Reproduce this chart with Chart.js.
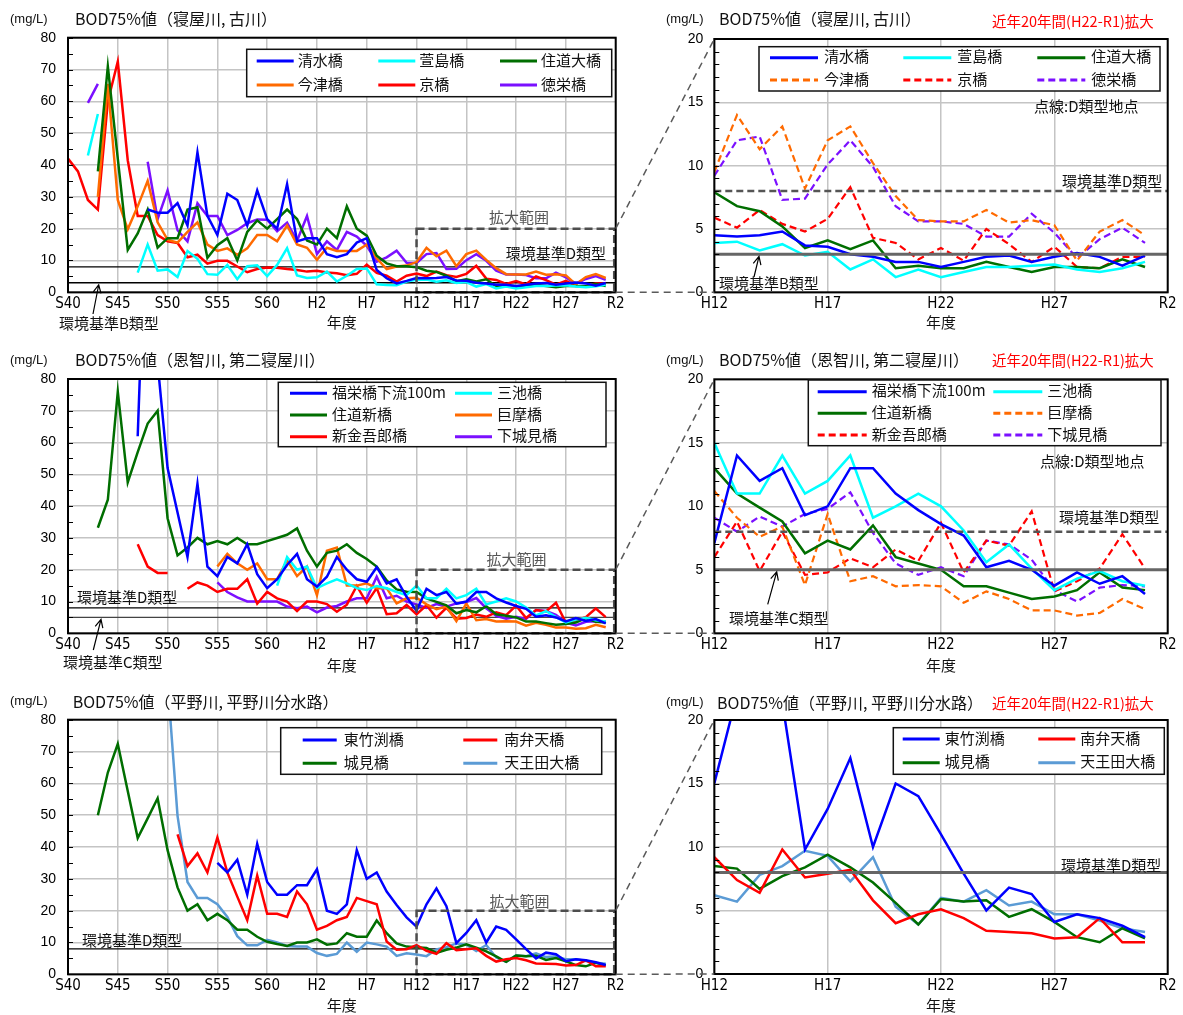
<!DOCTYPE html>
<html lang="ja">
<head>
<meta charset="utf-8">
<title>BOD75%値の経年変化</title>
<script src="https://cdn.jsdelivr.net/npm/chart.js@4.4.1/dist/chart.umd.min.js"></script>
<style>
  html, body { margin: 0; padding: 0; background: #fff; }
  #page { position: relative; width: 1183px; height: 1015px; overflow: hidden; background: #fff; }
  #page canvas { position: absolute; }
</style>
</head>
<body>
<div id="page"></div>
<script>
// ---- 年度 (fiscal year) axis -------------------------------------------
const firstYear = 1965;          // S40
const zoomFromYear = 2000;       // H12
const lastTickYear = 2020;       // R2

const longTickYears  = [1965, 1970, 1975, 1980, 1985, 1990, 1995, 2000, 2005, 2010, 2015, 2020];
const longTickLabels = ['S40', 'S45', 'S50', 'S55', 'S60', 'H2', 'H7', 'H12', 'H17', 'H22', 'H27', 'R2'];
const zoomTickYears  = [2000, 2005, 2010, 2015, 2020];
const zoomTickLabels = ['H12', 'H17', 'H22', 'H27', 'R2'];

// ---- BOD75%値 (mg/L), one value per fiscal year 1965 (S40) .. 2019 (R1) --
// 寝屋川・古川
const shimizuBashi = [
  null, null, null, null, null, null, null, null, 26, 25,
  25, 28, 21, 44, 24, 18, 31, 29, 21, 32,
  23, 20, 34, 16, 17, 17, 12, 11, 12, 15.6,
  17, 7, 4.4, 2.8, 3.6, 4.5, 4.4, 4.5, 4.8, 3.7,
  3.6, 3.0, 2.8, 2.4, 2.4, 2.0, 2.4, 2.8, 2.9, 2.4,
  2.8, 3.1, 2.8, 2.1, 2.9];
const kayashimaBashi = [
  null, null, 43, 56, null, null, null, 6.2, 15, 6.8,
  7.2, 4.8, 13, 10.5, 5.7, 5.5, 8.6, 4.1, 8.2, 8.5,
  5.1, 8.6, 13.9, 5.3, 4.5, 4.7, 6.5, 3.4, 5.2, 7.3,
  7.5, 2.5, 2.3, 2.2, 3.4, 3.9, 4.0, 3.3, 3.8, 2.9,
  3.2, 1.8, 2.6, 1.2, 1.8, 1.2, 1.6, 2.0, 2.0, 2.1,
  2.2, 1.8, 1.6, 1.9, 2.4];
const suidoOhashi = [
  null, null, null, 38, 71, 42, 13.3, 18.5, 26, 14,
  17, 17, 26, 26.7, 10.8, 14.8, 17, 10, 19, 22.6,
  20, 23, 26, 23, 16.3, 15, 20, 17, 27, 20,
  17.8, 11.5, 9.1, 8.2, 8.2, 7.9, 6.8, 6.4, 5.2, 3.5,
  4.1, 3.4, 4.1, 1.9, 2.1, 1.9, 1.9, 2.4, 2.0, 1.6,
  2.0, 2.0, 1.9, 2.6, 2.0];
const imazuBashi = [
  null, null, null, 30, 65.5, 29, 19.8, 27, 35, 22,
  16.5, 15.6, 19, 22, 15, 13, 13.8, 11.8, 13.8, 18,
  18, 16, 21, 15, 14, 10.2, 14, 13, 13, 13,
  15, 10.7, 7.3, 8.1, 8.4, 9.5, 14.0, 11.3, 13.1, 8.2,
  12.0, 13.1, 10.2, 7.6, 5.7, 5.6, 5.6, 6.5, 5.5, 5.7,
  5.3, 2.5, 4.8, 5.7, 4.5];
const kyoBashi = [
  42, 38, 29, 26, 60, 72.5, 41.5, 24, 24, 18,
  16, 15.5, 11, 11.8, 9, 9.9, 9.9, 8.1, 6.3, 7.3,
  7.8, 7.7, 7.3, 7, 6.5, 6.8, 6.2, 6, 5.4, 5.8,
  8.7, 6.1, 5.2, 3.4, 5.2, 5.9, 5.1, 6.5, 5.4, 4.8,
  5.8, 8.3, 4.3, 3.9, 2.6, 3.5, 2.5, 5.0, 3.8, 2.4,
  3.6, 2.0, 1.9, 2.8, 2.8];
const tokueiBashi = [
  null, null, 59.5, 65.5, null, null, null, null, 41, 23,
  32, 19.5, 16, 28, 24, 24, 18, 19.6, 21.7, 22.9,
  22.8, 19.2, 21.9, 16.2, 24, 12, 16, 13.3, 19, 17.5,
  14.6, 9.6, 11, 13.1, 9.3, 9.2, 12.0, 12.3, 7.3, 7.4,
  10.1, 12.0, 9.9, 6.8, 5.6, 5.6, 5.4, 4.4, 4.4, 6.2,
  4.7, 2.7, 4.2, 5.1, 3.9];

// 恩智川・第二寝屋川
const fukueiBashiKaryu = [
  null, null, null, null, null, null, null, 62, 150, 85,
  52, 38, 24, 47, 21, 18, 24, 22, 28, 18.6,
  14.2, 17, 21.5, 25, 17, 14.7, 17.8, 24, 20, 17,
  16.2, 20.8, 15.7, 17, 11.5, 7.1, 14.0, 12.0, 13.0, 9.3,
  10.0, 13.0, 13.0, 11.0, 9.7, 8.6, 7.7, 5.2, 5.7, 5.0,
  3.75, 4.8, 3.9, 4.5, 3.1];
const miikeBashi = [
  null, null, null, null, null, null, null, null, null, null,
  null, null, null, null, null, null, null, null, null, null,
  null, 15, 24, 20, 21, 14.2, 15.7, 17, 15.7, 14.2,
  13.6, 14.9, 14.2, 13, 12, 15, 11, 11, 14, 11,
  12, 14, 9.1, 10, 11, 10, 8.1, 5.6, 7.0, 5.1,
  3.4, 4.3, 4.9, 4.1, 3.75];
const suidoShinbashi = [
  null, null, null, 33.2, 42, 76, 47.5, 57, 66, 70,
  36.2, 24.5, 27, 30, 28, 29, 28, 30, 28, 28,
  29, 30, 31, 33, 26, 21, 25.3, 26, 28, 25.3,
  23.4, 21, 16.6, 13.8, 13.1, 13, 11, 9.9, 8.8, 6.3,
  7.3, 6.6, 8.5, 6.0, 5.5, 5.0, 3.7, 3.7, 3.2, 2.7,
  2.9, 3.4, 4.8, 3.6, 3.4];
const koseBashi = [
  null, null, null, null, null, null, null, null, null, null,
  null, null, null, null, null, 21, 25, 22, 20, 22,
  17, 17, 23, 18, 21, 12, 26, 27, 15, 15,
  15.7, 14.2, 14.2, 9.4, 11, 11.2, 9.1, 7.6, 8.4, 3.8,
  9.4, 4.1, 4.5, 3.7, 3.8, 3.7, 2.4, 3.3, 2.7, 1.8,
  1.8, 1.4, 1.6, 2.7, 1.9];
const shinkingoroBashi = [
  null, null, null, null, null, null, null, 28, 21, 19,
  19, null, 14, 16, 15, 13, 14, 14, 17, 9.3,
  13, 11, 10, 7, 10, 10, 9.2, 6.8, 9, 14.9,
  9.6, 14.2, 6, 6.3, 8.9, 6.0, 8.8, 4.9, 8.0, 4.6,
  4.8, 5.9, 5.2, 6.6, 5.7, 8.7, 4.8, 7.3, 6.9, 9.6,
  3.3, 4.1, 5.1, 7.8, 5.1];
const shimoShiromiBashi = [
  null, null, null, null, null, null, null, null, null, null,
  null, null, null, null, null, 16, 13, 11.3, 10, 10,
  10, 10, 8.4, 7.9, 8.4, 6.6, 8.1, 8.6, 10, 11,
  11, 17.8, 11, 11.8, 10, 9.1, 8.0, 9.2, 8.4, 9.4,
  9.8, 11.1, 7.9, 5.5, 4.6, 5.2, 4.5, 7.3, 7.0, 5.8,
  3.4, 2.5, 3.6, 3.8, 3.7];

// 平野川・平野川分水路
const higashiTakebuchiBashi = [
  null, null, null, null, null, null, null, null, null, null,
  null, null, null, null, null, 35, 32, 36, 25, 41,
  29, 25, 25, 28, 28, 33, 20, 19, 22, 39,
  30, 32, 26, 21.8, 17.9, 15, 22, 27, 21.4, 9.8,
  13, 17, 10, 15, 14, 11, 7.9, 5.0, 6.8, 6.3,
  4.1, 4.7, 4.4, 3.8, 2.9];
const minamiBentenBashi = [
  null, null, null, null, null, null, null, null, null, null,
  null, 44, 34, 38, 32, 43, 32, 24.4, 17, 31,
  19, 19, 18, 26, 22, 14, 15.2, 17, 18, 24,
  23, 22, 10.3, 7.7, 7.9, 9.2, 7.4, 6.4, 9.8, 7.6,
  7.9, 8.2, 5.8, 4.0, 4.7, 5.1, 4.4, 3.4, 3.3, 3.2,
  2.8, 2.9, 4.4, 2.5, 2.5];
const shiromiBashi = [
  null, null, null, 50, 63.4, 72.4, 57.6, 42.8, 49, 55.3,
  39, 27.3, 20, 22, 17, 19, 17, 14, 14, 11.8,
  10.2, 9.5, 8.9, 10, 10, 11, 9.3, 9.7, 12.9, 11.8,
  11.8, 16.9, 12.9, 9.7, 8.7, 8.5, 8.3, 6.7, 7.7, 8.4,
  9.4, 8.4, 7.2, 5.6, 3.9, 5.9, 5.7, 5.8, 4.5, 5.1,
  4.1, 2.9, 2.5, 3.6, 2.8];
const tennodenOhashi = [
  null, null, null, null, null, null, null, null, null, null,
  92, 49.8, 29, 24, 24, 22, 18, 12, 9.1, 9.1,
  10.8, 10, 8.9, 8.7, 8.7, 6.7, 5.8, 6.4, 10, 7.1,
  10, 9.4, 8.7, 5.8, 6.6, 6.2, 5.7, 7.8, 8.5, 9.7,
  9.3, 7.3, 9.2, 5.3, 3.9, 6.0, 5.7, 6.6, 5.4, 5.7,
  4.7, 4.7, 4.2, 3.6, 3.3];

// 環境基準 (mg/L)
const standardB = 3;
const standardC = 5;
const standardD = 8;
const zoomMaxBOD = 20;

// ---- styling ---------------------------------------------------------------
const JP = '"Noto Sans CJK JP", "Noto Sans", sans-serif';
const NUM = '"Liberation Sans", Arial, sans-serif';
const NUM_NARROW = '"Liberation Sans Narrow", "DejaVu Sans Condensed", "Liberation Sans", Arial, sans-serif';
const DASH = [7, 4];

const C = {
  blue: '#0000ff', cyan: '#00ffff', green: '#006e00', orange: '#ff6a00',
  red: '#ff0000', purple: '#7b10ff', sky: '#5b9bd5'
};

const groupNeya = [
  { label: '清水橋', values: shimizuBashi, color: C.blue },
  { label: '萱島橋', values: kayashimaBashi, color: C.cyan },
  { label: '住道大橋', values: suidoOhashi, color: C.green },
  { label: '今津橋', values: imazuBashi, color: C.orange, typeD: true },
  { label: '京橋', values: kyoBashi, color: C.red, typeD: true },
  { label: '徳栄橋', values: tokueiBashi, color: C.purple, typeD: true }
];
const groupOnji = [
  { label: '福栄橋下流100m', values: fukueiBashiKaryu, color: C.blue },
  { label: '三池橋', values: miikeBashi, color: C.cyan },
  { label: '住道新橋', values: suidoShinbashi, color: C.green },
  { label: '巨摩橋', values: koseBashi, color: C.orange, typeD: true },
  { label: '新金吾郎橋', values: shinkingoroBashi, color: C.red, typeD: true },
  { label: '下城見橋', values: shimoShiromiBashi, color: C.purple, typeD: true }
];
const groupHirano = [
  { label: '東竹渕橋', values: higashiTakebuchiBashi, color: C.blue },
  { label: '南弁天橋', values: minamiBentenBashi, color: C.red },
  { label: '城見橋', values: shiromiBashi, color: C.green },
  { label: '天王田大橋', values: tennodenOhashi, color: C.sky }
];

// ---- decoration plugin: border, minor ticks, reference lines, zoom box,
//      boxed legend, free text and arrows --------------------------------------
function drawArrow(ctx, x0, y0, x1, y1) {
  ctx.save();
  ctx.strokeStyle = '#000';
  ctx.lineWidth = 1.2;
  ctx.beginPath();
  ctx.moveTo(x0, y0); ctx.lineTo(x1, y1);
  const a = Math.atan2(y1 - y0, x1 - x0);
  const h = 9, s = 0.45;
  ctx.moveTo(x1 - h * Math.cos(a - s), y1 - h * Math.sin(a - s));
  ctx.lineTo(x1, y1);
  ctx.lineTo(x1 - h * Math.cos(a + s), y1 - h * Math.sin(a + s));
  ctx.stroke();
  ctx.restore();
}

function drawRefLines(chart, o, above) {
  const { ctx, chartArea: ca, scales } = chart;
  (o.refLines || []).filter(r => !!r.above === above).forEach(r => {
    const y = scales.y.getPixelForValue(r.value);
    ctx.save();
    ctx.beginPath();
    ctx.rect(ca.left, ca.top, ca.right - ca.left, ca.bottom - ca.top);
    ctx.clip();
    ctx.strokeStyle = r.color;
    ctx.lineWidth = r.width;
    ctx.setLineDash(r.dash || []);
    ctx.beginPath();
    ctx.moveTo(ca.left, y); ctx.lineTo(ca.right, y);
    ctx.stroke();
    ctx.restore();
  });
}

const panelDecor = {
  id: 'panelDecor',
  beforeDatasetsDraw(chart, args, o) { drawRefLines(chart, o, false); },
  afterDatasetsDraw(chart, args, o) {
    const { ctx, chartArea: ca, scales } = chart;
    drawRefLines(chart, o, true);
    if (o.zoomBox) {
      const zb = o.zoomBox;
      const x0 = scales.x.getPixelForValue(zb.x0), x1 = scales.x.getPixelForValue(zb.x1);
      const y0 = scales.y.getPixelForValue(zb.y0), y1 = scales.y.getPixelForValue(zb.y1);
      ctx.save();
      ctx.strokeStyle = '#4d4d4d';
      ctx.lineWidth = 2.5;
      ctx.setLineDash([8, 4]);
      ctx.strokeRect(x0, y1, x1 - x0 - 1.5, y0 - y1);
      ctx.restore();
    }
    // minor ticks on the value axis
    ctx.save();
    ctx.strokeStyle = '#000';
    ctx.lineWidth = 1;
    ctx.beginPath();
    for (let v = scales.y.min; v <= scales.y.max + 1e-9; v += o.minorStep) {
      const y = Math.round(scales.y.getPixelForValue(v)) + 0.5;
      ctx.moveTo(ca.left, y); ctx.lineTo(ca.left + 5, y);
    }
    ctx.stroke();
    // plot frame
    ctx.lineWidth = 2;
    ctx.strokeRect(ca.left, ca.top, ca.right - ca.left, ca.bottom - ca.top);
    ctx.restore();
  },
  afterDraw(chart, args, o) {
    const { ctx, scales } = chart;
    const [ox, oy] = o.origin;
    ctx.save();
    ctx.translate(-ox, -oy);
    // boxed legend built from the chart's own datasets
    if (o.legend) {
      const lg = o.legend;
      const [bx0, by0, bx1, by1] = lg.box;
      ctx.fillStyle = '#fff';
      ctx.fillRect(bx0, by0, bx1 - bx0, by1 - by0);
      ctx.strokeStyle = '#111';
      ctx.lineWidth = 1.5;
      ctx.strokeRect(bx0, by0, bx1 - bx0, by1 - by0);
      ctx.font = '15px ' + JP;
      ctx.textBaseline = 'middle';
      ctx.textAlign = 'left';
      chart.data.datasets.forEach((ds, i) => {
        const col = i % lg.colX.length, row = Math.floor(i / lg.colX.length);
        const x = lg.colX[col], y = lg.rowY[row];
        ctx.strokeStyle = ds.borderColor;
        ctx.lineWidth = 3;
        ctx.setLineDash(ds.borderDash || []);
        ctx.beginPath();
        ctx.moveTo(x, y); ctx.lineTo(x + lg.lineLen, y);
        ctx.stroke();
        ctx.setLineDash([]);
        ctx.fillStyle = '#111';
        ctx.fillText(ds.label, x + lg.lineLen + lg.gap, y - 1);
      });
    }
    (o.texts || []).forEach(t => {
      ctx.font = t.font;
      ctx.fillStyle = t.color || '#111';
      ctx.textAlign = t.align || 'left';
      ctx.textBaseline = 'middle';
      ctx.fillText(t.text, t.x, t.y);
    });
    (o.arrows || []).forEach(a => {
      const tipY = oy + scales.y.getPixelForValue(a.toValue);
      drawArrow(ctx, a.from[0], a.from[1], a.toX, tipY + 2);
    });
    ctx.restore();
  }
};

// ---- panel builder -----------------------------------------------------------
const page = document.getElementById('page');

function makeCanvas(x, y, w, h) {
  const c = document.createElement('canvas');
  c.width = w; c.height = h;
  c.style.left = x + 'px'; c.style.top = y + 'px';
  c.style.width = w + 'px'; c.style.height = h + 'px';
  page.appendChild(c);
  return c;
}

function toPoints(values, fromYear) {
  return values
    .map((v, i) => ({ x: firstYear + i, y: v }))
    .filter(p => p.x >= fromYear);
}

function buildPanel(cfg) {
  const [cx, cy, cw, ch] = cfg.canvas;
  const [L, T, R, B] = cfg.area;
  const canvas = makeCanvas(cx, cy, cw, ch);
  const zoomed = cfg.fromYear === zoomFromYear;
  const tickYears = zoomed ? zoomTickYears : longTickYears;
  const tickLabels = zoomed ? zoomTickLabels : longTickLabels;
  const chart = new Chart(canvas, {
    type: 'line',
    data: {
      datasets: cfg.group.map(s => ({
        label: s.label,
        data: toPoints(s.values, cfg.fromYear),
        borderColor: s.color,
        backgroundColor: s.color,
        borderDash: (zoomed && s.typeD) ? DASH : [],
        borderWidth: (zoomed && s.typeD) ? 2.2 : 2.5,
        pointRadius: 0,
        tension: 0,
        spanGaps: false,
        fill: false
      }))
    },
    options: {
      responsive: false,
      animation: false,
      devicePixelRatio: 1,
      events: [],
      layout: { padding: { left: 0, top: T - cy, right: cx + cw - R, bottom: 0 } },
      plugins: {
        legend: { display: false },
        tooltip: { enabled: false },
        panelDecor: Object.assign({ origin: [cx, cy] }, cfg.decor)
      },
      scales: {
        x: {
          type: 'linear',
          min: cfg.fromYear,
          max: lastTickYear,
          afterFit: s => { s.height = cy + ch - B; s.paddingLeft = 0; s.paddingRight = 0; },
          ticks: {
            stepSize: 5, autoSkip: false, maxRotation: 0, padding: 3,
            color: '#000', font: { family: NUM_NARROW, size: 15 },
            callback: v => { const k = tickYears.indexOf(v); return k >= 0 ? tickLabels[k] : ''; }
          },
          grid: { color: '#c4c4c4', lineWidth: 1.5, drawTicks: false },
          border: { display: false }
        },
        y: {
          min: 0,
          max: cfg.yMax,
          afterFit: s => { s.width = L - cx; s.paddingTop = 0; s.paddingBottom = 0; },
          ticks: {
            stepSize: cfg.yStep, padding: cfg.yPad, color: '#000',
            font: { family: NUM, size: 14 }
          },
          grid: { color: '#c4c4c4', lineWidth: 1.5, drawTicks: false },
          border: { display: false }
        }
      }
    },
    plugins: [panelDecor]
  });
  return { chart, x: cx, y: cy };
}

const F_TITLE = '16px ' + JP;
const F_JP = '15px ' + JP;
const F_UNIT = '13px ' + NUM;
const F_RED = '14.5px ' + JP;

// 寝屋川・古川 (long term)
const pA = buildPanel({
  canvas: [0, 0, 640, 340], area: [68, 37.7, 615.7, 292.3],
  group: groupNeya, fromYear: firstYear, yMax: 80, yStep: 10, yPad: 12,
  decor: {
    minorStep: 5,
    refLines: [
      { value: standardD, color: '#000', width: 1.3 },
      { value: standardB, color: '#000', width: 1.3 }
    ],
    zoomBox: { x0: zoomFromYear, x1: lastTickYear, y0: 0, y1: zoomMaxBOD },
    legend: { box: [246.7, 49.3, 611.7, 96.7], colX: [256.7, 378.3, 500], rowY: [61, 85], lineLen: 37, gap: 4 },
    texts: [
      { text: '(mg/L)', x: 10, y: 19, font: F_UNIT },
      { text: 'BOD75%値（寝屋川, 古川）', x: 75, y: 19, font: F_TITLE },
      { text: '年度', x: 341.8, y: 322.7, font: F_JP, align: 'center' },
      { text: '環境基準D類型', x: 606, y: 253, font: F_JP, align: 'right' },
      { text: '拡大範囲', x: 519, y: 217, font: F_JP, align: 'center', color: '#555' },
      { text: '環境基準B類型', x: 59, y: 323, font: F_JP }
    ],
    arrows: [{ from: [93, 314], toX: 98.7, toValue: standardB }]
  }
});

// 寝屋川・古川 (recent 20 years)
const pB = buildPanel({
  canvas: [640, 0, 543, 340], area: [714.3, 39, 1167.7, 292.3],
  group: groupNeya, fromYear: zoomFromYear, yMax: 20, yStep: 5, yPad: 11,
  decor: {
    minorStep: 1,
    refLines: [
      { value: standardD, color: '#555', width: 2.5, dash: DASH, above: true },
      { value: standardB, color: '#666', width: 3, above: true }
    ],
    legend: { box: [759, 46.7, 1160, 91], colX: [770, 903.3, 1037.3], rowY: [57.7, 80], lineLen: 48, gap: 6 },
    texts: [
      { text: '(mg/L)', x: 666, y: 19.3, font: F_UNIT },
      { text: 'BOD75%値（寝屋川, 古川）', x: 719, y: 19.3, font: F_TITLE },
      { text: '近年20年間(H22-R1)拡大', x: 992, y: 21, font: F_RED, color: '#ff0000' },
      { text: '年度', x: 941, y: 322.7, font: F_JP, align: 'center' },
      { text: '環境基準D類型', x: 1062, y: 181, font: F_JP },
      { text: '環境基準B類型', x: 719, y: 283, font: F_JP },
      { text: '点線:D類型地点', x: 1034, y: 106, font: F_JP }
    ],
    arrows: [{ from: [754, 277], toX: 759, toValue: standardB }]
  }
});

// 恩智川・第二寝屋川 (long term)
const pC = buildPanel({
  canvas: [0, 340, 640, 340], area: [68, 379, 615.7, 633.3],
  group: groupOnji, fromYear: firstYear, yMax: 80, yStep: 10, yPad: 12,
  decor: {
    minorStep: 5,
    refLines: [
      { value: standardD, color: '#000', width: 1.3 },
      { value: standardC, color: '#444', width: 1.3 }
    ],
    zoomBox: { x0: zoomFromYear, x1: lastTickYear, y0: 0, y1: zoomMaxBOD },
    legend: { box: [278.3, 382.3, 606, 446.7], colX: [290, 455], rowY: [393.3, 415, 436.7], lineLen: 37, gap: 5 },
    texts: [
      { text: '(mg/L)', x: 10, y: 360, font: F_UNIT },
      { text: 'BOD75%値（恩智川, 第二寝屋川）', x: 75, y: 360, font: F_TITLE },
      { text: '年度', x: 341.8, y: 665.7, font: F_JP, align: 'center' },
      { text: '環境基準D類型', x: 77, y: 597.7, font: F_JP },
      { text: '環境基準C類型', x: 63, y: 662.3, font: F_JP },
      { text: '拡大範囲', x: 516.5, y: 559, font: F_JP, align: 'center', color: '#555' }
    ],
    arrows: [{ from: [93.3, 650], toX: 101, toValue: standardC }]
  }
});

// 恩智川・第二寝屋川 (recent 20 years)
const pD = buildPanel({
  canvas: [640, 340, 543, 340], area: [714.3, 379.3, 1167.7, 633.3],
  group: groupOnji, fromYear: zoomFromYear, yMax: 20, yStep: 5, yPad: 11,
  decor: {
    minorStep: 1,
    refLines: [
      { value: standardD, color: '#555', width: 2.5, dash: DASH, above: true },
      { value: standardC, color: '#666', width: 3, above: true }
    ],
    legend: { box: [808.3, 380, 1161, 445.7], colX: [817.7, 993.3], rowY: [391.7, 413.3, 435], lineLen: 49, gap: 5 },
    texts: [
      { text: '(mg/L)', x: 666, y: 360, font: F_UNIT },
      { text: 'BOD75%値（恩智川, 第二寝屋川）', x: 719, y: 360, font: F_TITLE },
      { text: '近年20年間(H22-R1)拡大', x: 992, y: 360, font: F_RED, color: '#ff0000' },
      { text: '年度', x: 941, y: 665.7, font: F_JP, align: 'center' },
      { text: '環境基準D類型', x: 1059, y: 517.7, font: F_JP },
      { text: '環境基準C類型', x: 729, y: 618.3, font: F_JP },
      { text: '点線:D類型地点', x: 1040, y: 461, font: F_JP }
    ],
    arrows: [{ from: [767.7, 604.3], toX: 776.7, toValue: standardC }]
  }
});

// 平野川・平野川分水路 (long term)
const pE = buildPanel({
  canvas: [0, 680, 640, 335], area: [68, 719.7, 615.7, 974.3],
  group: groupHirano, fromYear: firstYear, yMax: 80, yStep: 10, yPad: 12,
  decor: {
    minorStep: 5,
    refLines: [{ value: standardD, color: '#000', width: 1.3 }],
    zoomBox: { x0: zoomFromYear, x1: lastTickYear, y0: 0, y1: zoomMaxBOD },
    legend: { box: [280.7, 727.7, 601.7, 774.3], colX: [302.7, 463.3], rowY: [740, 763.3], lineLen: 34, gap: 7 },
    texts: [
      { text: '(mg/L)', x: 10, y: 701.7, font: F_UNIT },
      { text: 'BOD75%値（平野川, 平野川分水路）', x: 72.7, y: 702, font: F_TITLE },
      { text: '年度', x: 341.8, y: 1005.7, font: F_JP, align: 'center' },
      { text: '環境基準D類型', x: 82, y: 940, font: F_JP },
      { text: '拡大範囲', x: 519.5, y: 901.7, font: F_JP, align: 'center', color: '#555' }
    ]
  }
});

// 平野川・平野川分水路 (recent 20 years)
const pF = buildPanel({
  canvas: [640, 680, 543, 335], area: [714.3, 720, 1167.7, 974],
  group: groupHirano, fromYear: zoomFromYear, yMax: 20, yStep: 5, yPad: 11,
  decor: {
    minorStep: 1,
    refLines: [{ value: standardD, color: '#666', width: 3, above: true }],
    legend: { box: [893.3, 727.7, 1164.3, 774.3], colX: [902.7, 1038.3], rowY: [739, 762.7], lineLen: 37, gap: 5 },
    texts: [
      { text: '(mg/L)', x: 666, y: 702, font: F_UNIT },
      { text: 'BOD75%値（平野川, 平野川分水路）', x: 717, y: 703, font: F_TITLE },
      { text: '近年20年間(H22-R1)拡大', x: 992, y: 703, font: F_RED, color: '#ff0000' },
      { text: '年度', x: 941, y: 1005.7, font: F_JP, align: 'center' },
      { text: '環境基準D類型', x: 1061, y: 865, font: F_JP }
    ]
  }
});

// ---- dashed leader lines from each 拡大範囲 box to its enlarged panel ---------
const overlay = makeCanvas(0, 0, 1183, 1015);
overlay.style.pointerEvents = 'none';
const octx = overlay.getContext('2d');
octx.strokeStyle = '#5a5a5a';
octx.lineWidth = 1.5;
octx.setLineDash([7, 5]);
[[pA, pB], [pC, pD], [pE, pF]].forEach(([lp, rp]) => {
  const ls = lp.chart.scales, rs = rp.chart.scales;
  const x0 = lp.x + ls.x.getPixelForValue(lastTickYear);
  const yTop0 = lp.y + ls.y.getPixelForValue(zoomMaxBOD);
  const yBot0 = lp.y + ls.y.getPixelForValue(0);
  const x1 = rp.x + rs.x.getPixelForValue(zoomFromYear);
  const yTop1 = rp.y + rs.y.getPixelForValue(zoomMaxBOD);
  const yBot1 = rp.y + rs.y.getPixelForValue(0);
  octx.beginPath();
  octx.moveTo(x0, yTop0); octx.lineTo(x1, yTop1);
  octx.moveTo(x0, yBot0); octx.lineTo(x1, yBot1);
  octx.stroke();
});
</script>
</body>
</html>
